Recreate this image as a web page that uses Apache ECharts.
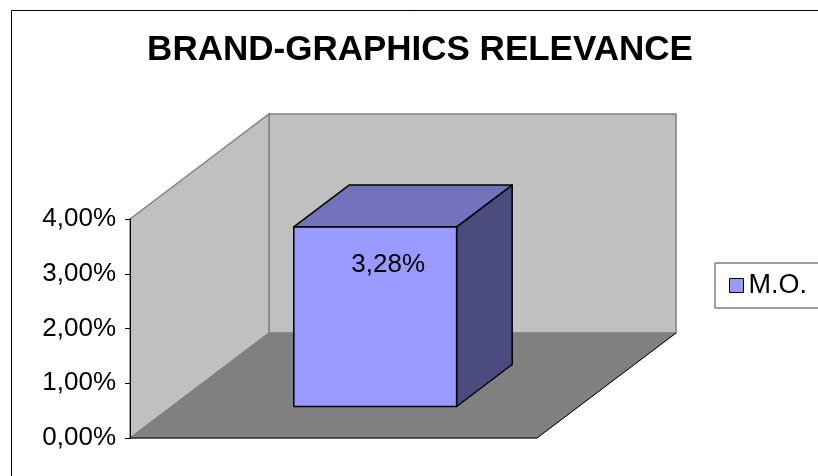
<!DOCTYPE html>
<html><head><meta charset="utf-8">
<script src="https://cdn.jsdelivr.net/npm/echarts@6/dist/echarts.min.js"></script>
<style>html,body{margin:0;padding:0;background:#fff}#c{width:818px;height:476px}</style>
</head><body><div id="c"></div>
<script>
// ---- data ----
const categories = [''];
const seriesName = 'M.O.';
const values = [3.28];
const yMin = 0, yMax = 4, yStep = 1;
const titleText = 'BRAND-GRAPHICS RELEVANCE';

// ---- 3D look (pixel offsets of the depth axis) ----
const DX = 139, DY = -105;
const FONT = 'Liberation Sans';
const fmt = v => v.toFixed(2).replace('.', ',') + '%';

const chart = echarts.init(document.getElementById('c'), null, {renderer: 'canvas'});

function wallsRender(params, api) {
  const cs = params.coordSys;
  const x0 = cs.x, x1 = cs.x + cs.width;
  const yb = api.coord([0, yMin])[1], yt = api.coord([0, yMax])[1];
  return {type: 'group', children: [
    {type: 'polygon', shape: {points: [[x0 + DX, yb + DY], [x1 + DX, yb + DY], [x1 + DX, yt + DY], [x0 + DX, yt + DY]]},
      style: {fill: '#c0c0c0', stroke: '#808080', lineWidth: 1.5}},
    {type: 'polygon', shape: {points: [[x0, yb], [x0 + DX, yb + DY], [x0 + DX, yt + DY], [x0, yt]]},
      style: {fill: '#c0c0c0', stroke: '#808080', lineWidth: 1.5}},
    {type: 'polygon', shape: {points: [[x0, yb], [x1, yb], [x1 + DX, yb + DY], [x0 + DX, yb + DY]]},
      style: {fill: '#808080', stroke: '#808080', lineWidth: 1}},
    {type: 'polyline', shape: {points: [[x0, yb], [x1, yb], [x1 + DX, yb + DY]]},
      style: {stroke: '#000', lineWidth: 1, fill: null}}
  ]};
}

function barRender(params, api) {
  const v = api.value(1);
  const c = api.coord([api.value(0), v]);
  const base = api.coord([api.value(0), 0]);
  const w = api.size([1, 0])[0] * 0.4;
  const fx = DX * 0.3, fy = DY * 0.3, bx = DX * 0.4, by = DY * 0.4;
  const l = c[0] - w / 2 + fx, r = c[0] + w / 2 + fx;
  const t = c[1] + fy, b = base[1] + fy;
  const st = {stroke: '#000', lineWidth: 1.5, lineJoin: 'round'};
  return {type: 'group', children: [
    {type: 'polygon', shape: {points: [[r, t], [r + bx, t + by], [r + bx, b + by], [r, b]]}, style: Object.assign({fill: '#4b4b7d'}, st)},
    {type: 'polygon', shape: {points: [[l, t], [l + bx, t + by], [r + bx, t + by], [r, t]]}, style: Object.assign({fill: '#7373bd'}, st)},
    {type: 'polygon', shape: {points: [[l, t], [r, t], [r, b], [l, b]]}, style: Object.assign({fill: '#9999ff'}, st)},
    {type: 'text', style: {text: fmt(v), x: (l + r) / 2 + 13, y: t + 38, align: 'center', verticalAlign: 'middle',
      fontSize: 26, fontFamily: FONT, fill: '#000'}}
  ]};
}

chart.setOption({
  backgroundColor: '#fff',
  animation: false,
  title: {
    text: titleText, left: 420, top: 33, padding: 0, textAlign: 'center',
    textStyle: {fontFamily: FONT, fontWeight: 'bold', fontSize: 35, color: '#000'}
  },
  legend: {
    data: [seriesName], left: 715, top: 263, orient: 'vertical',
    padding: [9, 14], itemWidth: 14, itemHeight: 14, icon: 'rect',
    borderColor: '#404040', borderWidth: 1,
    itemStyle: {borderColor: '#000', borderWidth: 1},
    textStyle: {fontFamily: FONT, fontSize: 27, color: '#000'}
  },
  grid: {left: 130, right: 281, top: 219, bottom: 38, containLabel: false},
  xAxis: {
    type: 'category', data: categories,
    axisLine: {show: false}, axisTick: {show: false}, axisLabel: {show: false}, splitLine: {show: false}
  },
  yAxis: {
    type: 'value', min: yMin, max: yMax, interval: yStep, z: 10,
    axisLine: {show: true, lineStyle: {color: '#000', width: 1}},
    axisTick: {show: true, length: 5, lineStyle: {color: '#000'}},
    axisLabel: {margin: 14, formatter: v => fmt(v), fontFamily: FONT, fontSize: 26, color: '#000'},
    splitLine: {show: false}
  },
  graphic: [{
    type: 'rect', z: 100, silent: true,
    shape: {x: 11.5, y: 10.5, width: 900, height: 600},
    style: {fill: null, stroke: '#000', lineWidth: 1}
  }],
  series: [
    {type: 'custom', name: '_walls', z: 1, silent: true, renderItem: wallsRender, data: [[0, 0]],
      encode: {x: 0, y: 1}},
    {type: 'custom', name: seriesName, z: 3, renderItem: barRender,
      itemStyle: {color: '#9999ff', borderColor: '#000', borderWidth: 1},
      data: values.map((v, i) => [i, v]), encode: {x: 0, y: 1}}
  ]
});
</script></body></html>
